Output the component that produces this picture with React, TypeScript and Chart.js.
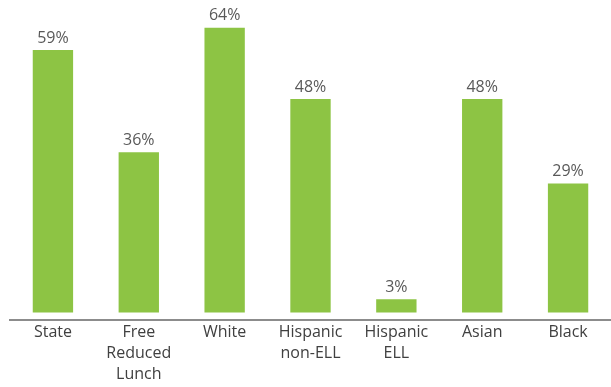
import React, { useEffect, useRef } from "react";
import { Chart, registerables } from "chart.js";

Chart.register(...registerables);

const categories: (string | string[])[] = [
  "State",
  ["Free", "Reduced", "Lunch"],
  "White",
  ["Hispanic", "non-ELL"],
  ["Hispanic", "ELL"],
  "Asian",
  "Black",
];
const values = [59, 36, 64, 48, 3, 48, 29];
const valueLabels = ["59%", "36%", "64%", "48%", "3%", "48%", "29%"];

const FONT = "'Open Sans', 'Noto Sans', sans-serif";

const labelPlugin = {
  id: "valueLabels",
  afterDatasetsDraw(chart: any) {
    const ctx = chart.ctx;
    const meta = chart.getDatasetMeta(0);
    ctx.save();
    ctx.font = `16px ${FONT}`;
    ctx.fillStyle = "#595959";
    ctx.textAlign = "center";
    ctx.textBaseline = "middle";
    meta.data.forEach((el: any, i: number) => {
      ctx.fillText(valueLabels[i], el.x, el.y - 12);
    });
    ctx.restore();
  },
};

export default function App() {
  const ref = useRef<HTMLCanvasElement>(null);
  useEffect(() => {
    document.body.style.margin = "0";
    const chart = new Chart(ref.current!, {
      type: "bar",
      data: {
        labels: categories,
        datasets: [
          {
            data: values,
            backgroundColor: "#8DC444",
            barPercentage: 0.47,
            categoryPercentage: 1,
          },
        ],
      },
      options: {
        animation: false,
        responsive: false,
        maintainAspectRatio: false,
        layout: { padding: { left: 10, right: 0, top: 18, bottom: 0 } },
        plugins: { legend: { display: false }, tooltip: { enabled: false } },
        scales: {
          y: { display: false, min: -1.6, max: 66.2 },
          x: {
            grid: { display: false, drawTicks: false },
            border: { display: true, color: "#8c8c8c", width: 2 },
            ticks: {
              color: "#404040",
              font: { family: FONT, size: 16, lineHeight: 1.32 },
              padding: 2,
              maxRotation: 0,
              autoSkip: false,
            },
          },
        },
      },
      plugins: [labelPlugin],
    });
    return () => chart.destroy();
  }, []);
  return <canvas ref={ref} width={611} height={387} style={{ display: "block" }} />;
}
